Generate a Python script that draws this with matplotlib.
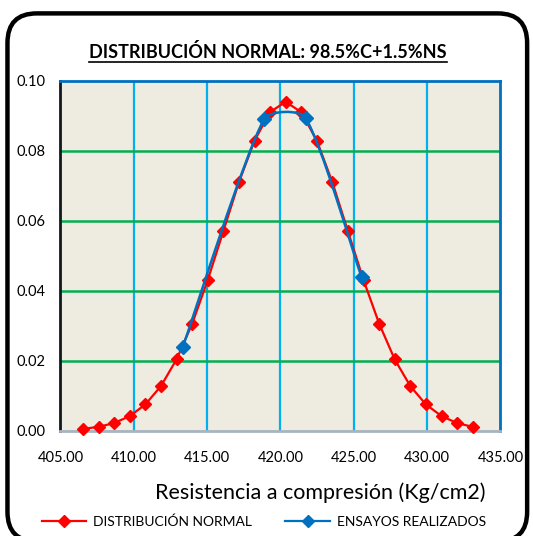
import numpy as np
import matplotlib
matplotlib.use("Agg")
import matplotlib.pyplot as plt
from matplotlib.path import Path
from matplotlib.patches import PathPatch, FancyBboxPatch
from matplotlib.lines import Line2D

plt.rcParams['font.family'] = ['Lato', 'DejaVu Sans']

# curva normal teorica
x_normal = [406.54, 407.60, 408.66, 409.73, 410.79, 411.85, 412.91, 413.98,
            415.04, 416.10, 417.16, 418.23, 419.29, 420.35, 421.41, 422.48,
            423.54, 424.60, 425.66, 426.73, 427.79, 428.85, 429.91, 430.98,
            432.04, 433.10]
y_normal = [0.00048, 0.00104, 0.00214, 0.00412, 0.00747, 0.0127, 0.0203, 0.0305,
            0.0430, 0.0569, 0.0709, 0.0828, 0.0910, 0.0939, 0.0910, 0.0828,
            0.0709, 0.0569, 0.0430, 0.0305, 0.0203, 0.0127, 0.00747, 0.00412,
            0.00214, 0.00104]

# ensayos
x_ensayos = [413.33, 418.87, 421.71, 425.53]
y_ensayos = [0.0238, 0.0889, 0.0893, 0.0438]

xticks = [405, 410, 415, 420, 425, 430, 435]
yticks = [0.00, 0.02, 0.04, 0.06, 0.08, 0.10]

RED = '#FF0000'
BLUE = '#0070C0'

fig = plt.figure(figsize=(5.33, 5.36), dpi=100)
ax = fig.add_axes([0.1135, 0.1968, 0.8255, 0.653])
ax.set_facecolor('#EEEBE0')

ax.set_xlim(405, 435)
ax.set_ylim(0, 0.10)
ax.set_xticks(xticks)
ax.set_yticks(yticks)
ax.set_xticklabels(['%.2f' % t for t in xticks])
ax.set_yticklabels(['%.2f' % t for t in yticks])
ax.tick_params(length=0, labelsize=10.5, colors='black')
ax.tick_params(axis='x', pad=15)
ax.tick_params(axis='y', pad=11)

for t in xticks[1:-1]:
    ax.axvline(t, color='#00B0F0', lw=1.6, zorder=1)
for t in yticks[1:-1]:
    ax.axhline(t, color='#00B050', lw=1.8, zorder=1)

ax.spines['left'].set_color('#111820')
ax.spines['top'].set_color(BLUE)
ax.spines['right'].set_color(BLUE)
ax.spines['bottom'].set_color('#A8B4C0')
for s in ax.spines.values():
    s.set_linewidth(2)

ax.plot(x_normal, y_normal, color=RED, lw=1.6, marker='D', ms=6.5, zorder=3,
        clip_on=False)

# linea suavizada tipo Excel para los ensayos
kx = 440 / 30.0
ky = 350 / 0.10
P = np.column_stack([(np.array(x_ensayos) - 405) * kx, np.array(y_ensayos) * ky])
n = len(P)
verts = [P[0]]
codes = [Path.MOVETO]
for i in range(n - 1):
    a = P[max(i - 1, 0)]
    b = P[i]
    c = P[i + 1]
    d = P[min(i + 2, n - 1)]
    seg = np.hypot(*(c - b))
    t1 = (c - a) / 6.0
    t2 = (d - b) / 6.0
    lim = 0.25 * seg if i > 0 and i < n - 2 else 10 * seg
    if np.hypot(*t1) > lim:
        t1 = t1 / np.hypot(*t1) * lim
    if np.hypot(*t2) > lim:
        t2 = t2 / np.hypot(*t2) * lim
    verts += [b + t1, c - t2, c]
    codes += [Path.CURVE4] * 3
verts = np.array(verts)
verts[:, 0] = verts[:, 0] / kx + 405
verts[:, 1] = verts[:, 1] / ky
ax.add_patch(PathPatch(Path(verts, codes), facecolor='none', edgecolor=BLUE,
                       lw=1.8, zorder=4))
ax.plot(x_ensayos, y_ensayos, ls='none', marker='D', ms=7, color=BLUE, zorder=5)

# titulo subrayado
title = fig.text(0.503, 0.903, 'DISTRIBUCIÓN NORMAL: 98.5%C+1.5%NS', ha='center',
                 va='center', fontsize=13, fontweight='bold')
fig.text(0.60, 0.080, 'Resistencia a compresión (Kg/cm2)', ha='center',
         va='center', fontsize=15.5)

h1 = Line2D([], [], color=RED, lw=1.6, marker='D', ms=6)
h2 = Line2D([], [], color=BLUE, lw=1.6, marker='D', ms=6)
fig.legend([h1, h2], ['DISTRIBUCIÓN NORMAL', 'ENSAYOS REALIZADOS'], ncol=2,
           loc='center', bbox_to_anchor=(0.495, 0.026), frameon=False,
           fontsize=10, handlelength=3.2, handletextpad=0.5, columnspacing=2.4)

# marco redondeado
fig.patches.append(FancyBboxPatch((0.014, -0.01), 0.975, 0.985,
                                  boxstyle='round,pad=0,rounding_size=0.055',
                                  transform=fig.transFigure, facecolor='none',
                                  edgecolor='black', lw=3.2))

fig.canvas.draw()
bb = title.get_window_extent()
fig.add_artist(Line2D([bb.x0 / fig.bbox.width, bb.x1 / fig.bbox.width],
                      [(bb.y0 - 1) / fig.bbox.height] * 2,
                      transform=fig.transFigure, color='black', lw=1.2))

fig.savefig('out.png', dpi=100)
